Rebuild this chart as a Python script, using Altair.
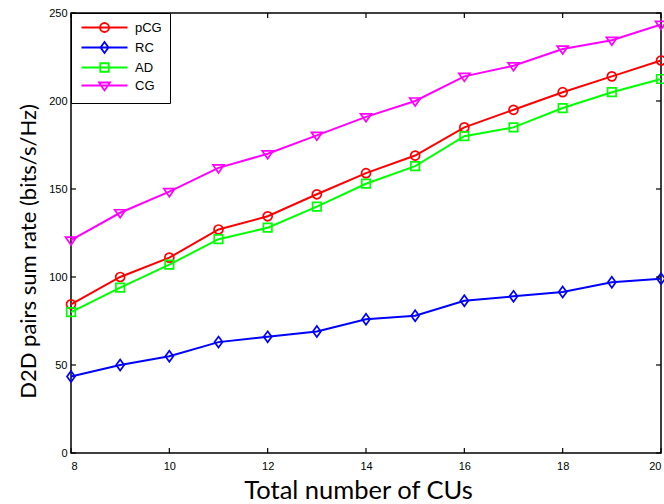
import altair as alt
import pandas as pd

# ---- data ----
cus = [8, 9, 10, 11, 12, 13, 14, 15, 16, 17, 18, 19, 20]
pcg = [84.5, 100, 111, 127, 134.5, 147, 159, 169, 185, 195, 205, 214, 223]
rc = [43.5, 50, 55, 63, 66, 69, 76, 78, 86.5, 89, 91.5, 97, 99]
ad = [80, 94, 107, 121.5, 128, 140, 153, 163, 180, 185, 196, 205, 212.5]
cg = [121, 136.5, 148.5, 162, 170, 180.5, 191, 200, 214, 220, 229.5, 234.5, 243.5]

series_names = ["pCG", "RC", "AD", "CG"]
series_values = [pcg, rc, ad, cg]
colors = ["#ff0000", "#0000ff", "#00ff00", "#ff00ff"]

x_ticks = [8, 10, 12, 14, 16, 18, 20]
y_ticks = [0, 50, 100, 150, 200, 250]

# marker outlines (unit = sqrt(size)/2 px)
marker_paths = [
    "M-0.9,0A0.9,0.9,0,1,1,0.9,0A0.9,0.9,0,1,1,-0.9,0Z",
    "M0,-1.1L0.8,0L0,1.1L-0.8,0Z",
    "M-0.85,-0.85L0.85,-0.85L0.85,0.85L-0.85,0.85Z",
    "M-1.1,-0.6L1.1,-0.6L0,1.0Z",
]
legend_line = "M-4.6,0L4.6,0"
legend_paths = [legend_line + p for p in marker_paths]

rows = []
for name, vals in zip(series_names, series_values):
    for xv, yv in zip(cus, vals):
        rows.append({"x": xv, "value": yv, "series": name})
df = pd.DataFrame(rows)
xt_df = pd.DataFrame({"x": x_ticks})
yt_df = pd.DataFrame({"value": y_ticks})

W, H = 590, 440
TICK = 5
xscale = alt.Scale(domain=[8, 20], nice=False, zero=False)
yscale = alt.Scale(domain=[0, 250], nice=False)

label_font = "Liberation Sans"
title_font = "Lato"

x_axis = alt.Axis(
    values=x_ticks, title="Total number of CUs", grid=False, domain=False, ticks=False,
    labelFont=label_font, labelFontSize=11, labelColor="black", labelPadding=7,
    titleFont=title_font, titleFontSize=25.5, titleFontWeight="normal",
    titleColor="black", titleX=287, titleY=45, titleBaseline="alphabetic",
    titleAlign="center",
)
y_axis = alt.Axis(
    values=y_ticks, title="D2D pairs sum rate (bits/s/Hz)", grid=False, domain=False, ticks=False,
    labelFont=label_font, labelFontSize=11, labelColor="black", labelPadding=4,
    titleFont=title_font, titleFontSize=22, titleFontWeight="normal",
    titleColor="black", titleX=-36, titleY=238, titleBaseline="alphabetic",
    titleAngle=270, titleAlign="center",
)

color_scale = alt.Scale(domain=series_names, range=colors)
color_noleg = alt.Color("series:N", scale=color_scale, legend=None)

base = alt.Chart(df)

leg = alt.Legend(
    title=None, orient="top-left", offset=0, padding=8,
    strokeColor="black", fillColor="white",
    symbolSize=100, symbolStrokeWidth=1.8, symbolOffset=19,
    labelOffset=24, rowPadding=2,
    labelFont=label_font, labelFontSize=13, labelColor="black",
    symbolOpacity=1,
)
# invisible layer that only carries the legend (must come first so its legend wins)
legend_layer = base.mark_point(filled=False, size=100, opacity=0).encode(
    x=alt.X("x:Q", scale=xscale, axis=x_axis),
    y=alt.Y("value:Q", scale=yscale, axis=y_axis),
    color=alt.Color("series:N", scale=color_scale, legend=leg),
    shape=alt.Shape("series:N", scale=alt.Scale(domain=series_names, range=legend_paths), legend=leg),
)

lines = base.mark_line(strokeWidth=2).encode(
    x=alt.X("x:Q", scale=xscale, axis=x_axis),
    y=alt.Y("value:Q", scale=yscale, axis=y_axis),
    color=color_noleg,
    detail="series:N",
)

marker_layers = []
for name, path in zip(series_names, marker_paths):
    marker_layers.append(
        base.transform_filter(alt.datum.series == name)
        .mark_point(shape=path, size=100, filled=False, strokeWidth=1.7, opacity=1)
        .encode(x=alt.X("x:Q", scale=xscale, axis=x_axis),
                y=alt.Y("value:Q", scale=yscale, axis=y_axis),
                color=color_noleg)
    )

# inward tick marks on all four sides (MATLAB style box)
tick_style = dict(color="black", strokeWidth=1.2)
x_bottom = alt.Chart(xt_df).mark_rule(**tick_style).encode(
    x=alt.X("x:Q", scale=xscale, axis=x_axis), y=alt.value(H), y2=alt.value(H - TICK))
x_top = alt.Chart(xt_df).mark_rule(**tick_style).encode(
    x=alt.X("x:Q", scale=xscale, axis=x_axis), y=alt.value(0), y2=alt.value(TICK))
y_left = alt.Chart(yt_df).mark_rule(**tick_style).encode(
    y=alt.Y("value:Q", scale=yscale, axis=y_axis), x=alt.value(0), x2=alt.value(TICK))
y_right = alt.Chart(yt_df).mark_rule(**tick_style).encode(
    y=alt.Y("value:Q", scale=yscale, axis=y_axis), x=alt.value(W), x2=alt.value(W - TICK))

chart = (
    alt.layer(legend_layer, lines, *marker_layers, x_bottom, x_top, y_left, y_right)
    .properties(
        width=W, height=H,
        autosize=alt.AutoSizeParams(type="none"),
        padding={"left": 71, "top": 13, "right": 3, "bottom": 51},
        background="white",
    )
    .configure_view(stroke="black", strokeWidth=1.5)
)

chart.save("out.html", embed_options={"renderer": "svg", "actions": False})
